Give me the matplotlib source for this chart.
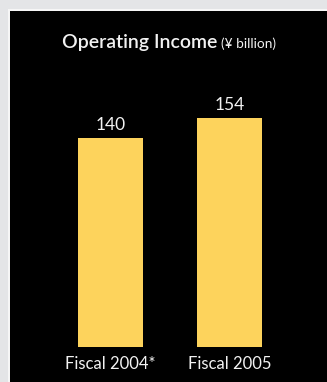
import matplotlib
matplotlib.use("Agg")
import matplotlib.pyplot as plt
from matplotlib.patches import Rectangle

categories = ["Fiscal 2004*", "Fiscal 2005"]
values = [140, 154]
value_labels = ["140", "154"]

W, H, DPI = 327, 382, 100
fig = plt.figure(figsize=(W / DPI, H / DPI), dpi=DPI)
fig.patch.set_facecolor("#e4e5e7")

# black panel with a thin light edge
fig.add_artist(Rectangle((8 / W, 0), 1, (H - 9) / H, transform=fig.transFigure,
                         facecolor="#f6f6f6", edgecolor="none", zorder=-2))
fig.add_artist(Rectangle((9.5 / W, 0), 1, (H - 10.5) / H, transform=fig.transFigure,
                         facecolor="black", edgecolor="none", zorder=-1))

FONT = "Lato"
TXT = "#f2f2f2"

# title
fig.text(217 / W, 1 - 48 / H, "Operating Income", fontfamily=FONT, fontsize=14,
         fontweight="semibold", color=TXT, ha="right", va="baseline")
fig.text(221 / W, 1 - 48 / H, "(¥ billion)", fontfamily=FONT, fontsize=9.8,
         color=TXT, ha="left", va="baseline")

# bar axes
left_px, right_px = 30, 310
base_px = 35
ppu = 1.49
ymax = 160
ax = fig.add_axes([left_px / W, base_px / H, (right_px - left_px) / W, ymax * ppu / H])
ax.set_facecolor("none")
spacing = 119
x = [0, 1]
ax.bar(x, values, width=65 / spacing, color="#fdd35c", edgecolor="none")
ax.set_xlim(-(110.5 - left_px) / spacing, 1 + (right_px - 229.5) / spacing)
ax.set_ylim(0, ymax)
ax.axis("off")

for xi, v, lab in zip(x, values, value_labels):
    ax.annotate(lab, (xi, v), xytext=(0, 5), textcoords="offset pixels",
                ha="center", va="bottom", fontfamily=FONT, fontsize=12.5,
                color=TXT, annotation_clip=False)

for xi, c in zip(x, categories):
    ax.annotate(c, (xi, 0), xytext=(0, -9), textcoords="offset pixels",
                ha="center", va="top", fontfamily=FONT, fontsize=12,
                color=TXT, annotation_clip=False)

fig.savefig("out.png", dpi=DPI, facecolor=fig.get_facecolor())
